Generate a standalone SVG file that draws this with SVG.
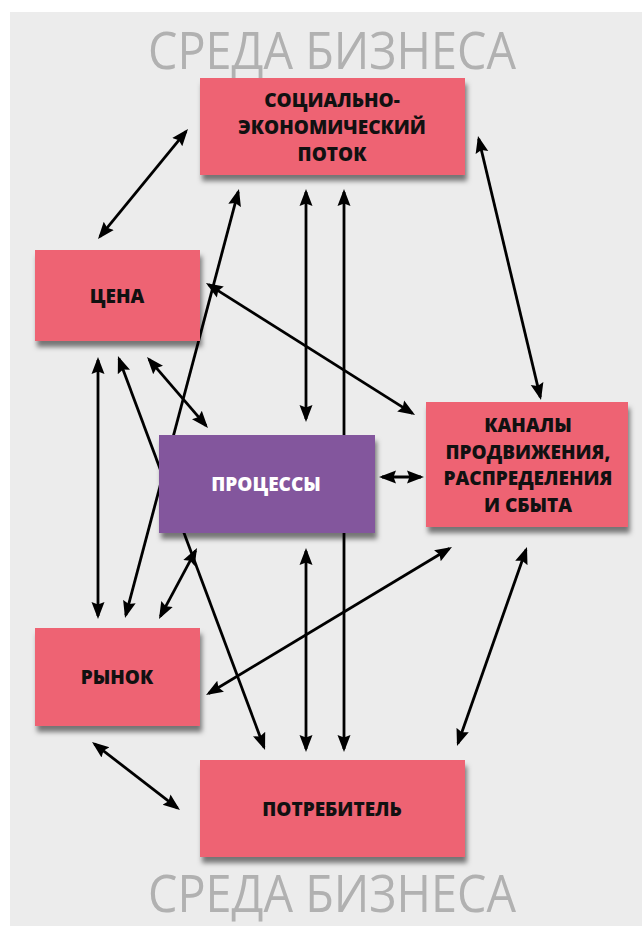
<svg xmlns="http://www.w3.org/2000/svg" width="642" height="927" viewBox="0 0 642 927">
<style>
.bg{fill:#ffffff}
.env{fill:#ececec}
.title{font-family:"Open Sans","Noto Sans",sans-serif;font-size:52px;fill:#b1b1b1;font-weight:400}
.box{fill:#ee6373;filter:url(#sh)}
.proc{fill:#83569d;filter:url(#sh)}
.lbl{font-family:"Open Sans","Noto Sans",sans-serif;font-size:19px;font-weight:800;fill:#111111;text-anchor:middle}
.lblw{fill:#ffffff}
.con line{stroke:#000;stroke-width:2.8;fill:none;marker-start:url(#ah);marker-end:url(#ah)}
</style>
<defs>
<filter id="sh" x="-10%" y="-10%" width="125%" height="135%">
<feDropShadow dx="2" dy="6" stdDeviation="2.5" flood-color="#000" flood-opacity="0.5"/>
</filter>
<marker id="ah" markerUnits="userSpaceOnUse" markerWidth="18" markerHeight="15" viewBox="0 0 18 15" refX="14" refY="7.5" orient="auto-start-reverse">
<path d="M0,1 L17,7.5 L0,14 L2.5,7.5 z" fill="#000"/>
</marker>
</defs>
<rect class="bg" x="0" y="0" width="642" height="927"/>
<rect class="env" x="10" y="12" width="632" height="914"/>
<text class="title" x="148" y="69" textLength="368" lengthAdjust="spacingAndGlyphs">СРЕДА БИЗНЕСА</text>
<text class="title" x="148" y="912" textLength="368" lengthAdjust="spacingAndGlyphs">СРЕДА БИЗНЕСА</text>
<g id="connectors" class="con">
<line x1="99.9" y1="236.7" x2="186.1" y2="131.3"/>
<line x1="478.7" y1="138.9" x2="540.3" y2="397.1"/>
<line x1="208.5" y1="284.6" x2="412.5" y2="413.4"/>
<line x1="306" y1="192" x2="306" y2="419"/>
<line x1="344" y1="192" x2="344" y2="749"/>
<line x1="125.8" y1="615.1" x2="238.2" y2="191.9"/>
<line x1="98" y1="360" x2="98" y2="616"/>
<line x1="119" y1="358.8" x2="264" y2="747.2"/>
<line x1="149" y1="359.3" x2="206" y2="425.7"/>
<line x1="382" y1="477" x2="421" y2="477"/>
<line x1="195.6" y1="550.6" x2="160.4" y2="616.4"/>
<line x1="449.4" y1="548.5" x2="208.6" y2="693.5"/>
<line x1="306" y1="551" x2="306" y2="749"/>
<line x1="526" y1="549.8" x2="458" y2="743.2"/>
<line x1="94.4" y1="743.8" x2="177.6" y2="808.2"/>
</g>
<g id="social">
<rect class="box" x="200" y="78" width="265" height="97"/>
<text class="lbl" x="332" y="107">СОЦИАЛЬНО-</text>
<text class="lbl" x="332" y="134">ЭКОНОМИЧЕСКИЙ</text>
<text class="lbl" x="332" y="161">ПОТОК</text>
</g>
<g id="price">
<rect class="box" x="35" y="250" width="165" height="91"/>
<text class="lbl" x="117" y="303">ЦЕНА</text>
</g>
<g id="processes">
<rect class="proc" x="159" y="435" width="216" height="98"/>
<text class="lbl lblw" x="266" y="491">ПРОЦЕССЫ</text>
</g>
<g id="channels">
<rect class="box" x="426" y="402" width="202" height="125"/>
<text class="lbl" x="528" y="432">КАНАЛЫ</text>
<text class="lbl" x="528" y="458.5">ПРОДВИЖЕНИЯ,</text>
<text class="lbl" x="528" y="485">РАСПРЕДЕЛЕНИЯ</text>
<text class="lbl" x="528" y="511.5">И СБЫТА</text>
</g>
<g id="market">
<rect class="box" x="35" y="628" width="165" height="98"/>
<text class="lbl" x="117" y="684">РЫНОК</text>
</g>
<g id="consumer">
<rect class="box" x="200" y="760" width="265" height="97"/>
<text class="lbl" x="332" y="816">ПОТРЕБИТЕЛЬ</text>
</g>
</svg>
